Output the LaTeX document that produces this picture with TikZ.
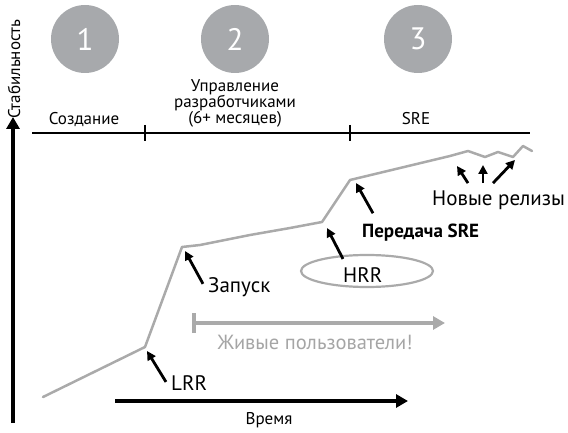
\documentclass[tikz,border=0pt]{standalone}
\usepackage{fontspec}
\setmainfont{PT Sans}
\usetikzlibrary{arrows.meta}
\definecolor{circ}{RGB}{167,169,172}
\definecolor{curvec}{RGB}{170,170,170}
\definecolor{livec}{RGB}{165,165,165}
\begin{document}
\begin{tikzpicture}[x=1pt,y=-1pt,
  numcirc/.style={circle,fill=circ,minimum size=68pt,inner sep=0pt,text=white,font=\fontsize{31}{31}\selectfont},
  phase/.style={inner sep=0pt,anchor=base,font=\fontsize{17}{16}\selectfont},
  lbl/.style={inner sep=0pt,anchor=base west,font=\fontsize{21}{21}\selectfont},
  axis/.style={line width=4pt,-{Triangle[length=12pt,width=13pt]}},
  pointer/.style={line width=2.8pt,-{Triangle[length=9pt,width=9pt]}},
  curveline/.style={draw=curvec,line width=2.5pt,line join=round,line cap=round}]
\useasboundingbox (0,0) rectangle (568,433);

% circles
\node[numcirc] (c1) at (85,39) {1};
\node[numcirc] (c2) at (235,39) {2};
\node[numcirc] (c3) at (418,39) {3};

% timeline
\coordinate (tlS) at (32,133);
\coordinate (tlE) at (530,133);
\coordinate (tk1a) at (145,125);
\coordinate (tk1b) at (145,141);
\coordinate (tk2a) at (350,125);
\coordinate (tk2b) at (350,141);
\draw[line width=2.2pt] (tlS) -- (tlE);
\draw[line width=2.2pt] (tk1a) -- (tk1b);
\draw[line width=2.2pt] (tk2a) -- (tk2b);

\node[phase] (ph1) at (84,125) {Создание};
\node[phase] (ph2a) at (235,92) {Управление};
\node[phase] (ph2b) at (235,108) {разработчиками};
\node[phase] (ph2c) at (235,124) {(6+ месяцев)};
\node[phase] (ph3) at (416,125) {SRE};

% axes
\coordinate (yB) at (13,423);
\coordinate (yT) at (13,117);
\draw[axis] (yB) -- (yT);
\node[inner sep=0pt,anchor=base west,rotate=90,font=\fontsize{17}{17}\selectfont] (ylab) at (20,119) {Стабильность};

\coordinate (tA) at (115,401);
\coordinate (tB) at (408,401);
\draw[axis] (tA) -- (tB);
\node[phase,font=\fontsize{17}{17}\selectfont] (tlab) at (269,424) {Время};

% stability curve
\coordinate (lrrP) at (145,347);
\coordinate (launchP) at (182,247);
\coordinate (hrrP) at (322,222);
\coordinate (sreP) at (350,180);
\draw[curveline] (43,397) -- (lrrP) -- (launchP) -- (200,245) -- (250,235) -- (290,228) -- (hrrP)
  -- (sreP) -- (450,156) -- (468,151) -- (485,157) -- (498,152) -- (513,157) -- (523,146) -- (532,151);

% live users
\coordinate (liveA) at (192,323);
\coordinate (liveB) at (445,323);
\draw[draw=curvec,line width=4pt,{Bar[width=20pt]}-{Triangle[length=12pt,width=13pt]}] (liveA) -- (liveB);
\node[phase,text=livec,font=\fontsize{20.5}{20.5}\selectfont] (live) at (315,349) {Живые пользователи!};

% labels and pointers
\node[lbl] (lrr) at (171,390) {LRR};
\coordinate (lrrTip) at (147,351);
\draw[pointer] ([xshift=-5pt,yshift=-7pt]lrr.north west) -- (lrrTip);

\node[lbl] (zap) at (208,292) {Запуск};
\coordinate (zapTip) at (185,251);
\draw[pointer] ([xshift=-5pt,yshift=-7pt]zap.north west) -- (zapTip);

\draw[draw=curvec,line width=2.2pt] (367,271) ellipse [x radius=66, y radius=16];
\node[lbl] (hrr) at (343,282) {HRR};
\coordinate (hrrTip) at (327,228);
\draw[pointer] ([yshift=8pt]hrr.north west) -- (hrrTip);

\node[lbl,font=\bfseries\fontsize{19}{19}\selectfont] (sre) at (362,237) {Передача SRE};
\coordinate (sreTip) at (356,183);
\draw[pointer] ([xshift=11pt,yshift=10pt]sre.north west) -- (sreTip);

\node[lbl] (rel) at (432,205) {Новые релизы};
\coordinate (r1) at (457,166);
\coordinate (r2) at (483,165);
\coordinate (r3) at (515,160);
\draw[pointer] ([xshift=36pt,yshift=7pt]rel.north west) -- (r1);
\draw[pointer] ([xshift=51pt,yshift=7pt]rel.north west) -- (r2);
\draw[pointer] ([xshift=61pt,yshift=7pt]rel.north west) -- (r3);
\end{tikzpicture}
\end{document}
